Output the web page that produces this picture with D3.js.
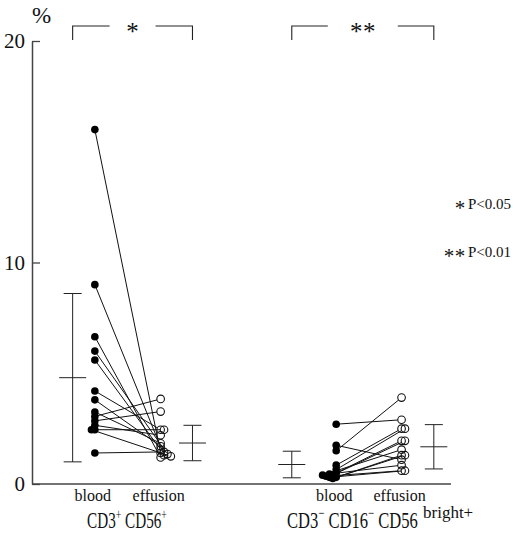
<!DOCTYPE html>
<html>
<head>
<meta charset="utf-8">
<script src="https://cdn.jsdelivr.net/npm/d3@7"></script>
<style>
  body { margin: 0; background: #fff; }
  svg { display: block; }
  text { font-family: "Liberation Serif", "Times New Roman", serif; fill: #111; }
</style>
</head>
<body>
<svg id="chart" width="518" height="543"></svg>
<script>
// Paired percentages (blood vs. effusion) per patient, two lymphocyte subsets
const conditions = ["blood", "effusion"];
const significance = ["*", "**"];
const legendLabels = ["P<0.05", "P<0.01"];
const yTicks = [0, 10, 20];

// CD3+ CD56+ cells
const nktBlood    = [16.0, 9.0, 6.65, 6.0, 5.6, 4.2, 3.8, 3.05, 2.85, 3.25, 2.65, 2.45, 2.45, 1.4];
const nktEffusion = [1.4, 1.3, 1.2, 1.35, 1.55, 2.45, 1.7, 3.84, 3.27, 1.84, 2.2, 2.45, 1.25, 1.45];
const nktMean = [4.8, 1.85];
const nktSD   = [3.8, 0.8];

// CD3- CD16- CD56bright+ cells
const nkBlood    = [2.7, 1.75, 1.5, 0.85, 0.65, 0.5, 0.4, 0.3, 0.25, 0.45, 0.35, 0.3, 0.4];
const nkEffusion = [2.9, 1.1, 3.9, 2.5, 2.5, 1.95, 1.95, 1.3, 1.3, 0.85, 0.6, 0.6, 1.55];
const nkMean = [0.88, 1.68];
const nkSD   = [0.6, 1.0];

const groups = [
  { blood: nktBlood, effusion: nktEffusion, mean: nktMean, sd: nktSD, sig: significance[0] },
  { blood: nkBlood,  effusion: nkEffusion,  mean: nkMean,  sd: nkSD,  sig: significance[1] }
];

const svg = d3.select("#chart");
const axisX0 = 32, axisX1 = 451;

const y = d3.scaleLinear().domain([0, 20]).range([484, 41]);
// horizontal layout in arbitrary units along the x axis
const x = d3.scaleLinear().domain([0, 100]).range([axisX0, axisX1]);
const slots = [
  { sdBlood: 9.7, blood: 15.0, effusion: 30.7, sdEff: 38.3 },
  { sdBlood: 62.0, blood: 72.6, effusion: 88.2, sdEff: 95.9 }
];

const r = 3.8;

// Y axis with inward ticks
const yAxis = svg.append("g")
  .attr("transform", `translate(${axisX0},0)`)
  .call(d3.axisLeft(y).tickValues(yTicks).tickSizeInner(-8).tickSizeOuter(0).tickPadding(7));
yAxis.select(".domain").attr("stroke", "#444").attr("stroke-width", 1.5);
yAxis.selectAll(".tick line").attr("stroke", "#444").attr("stroke-width", 1.3);
yAxis.selectAll(".tick text")
  .style("font-family", "'Liberation Serif', serif")
  .attr("font-size", 21).attr("fill", "#111");

svg.append("text").attr("x", 32).attr("y", 23).attr("font-size", 23).text("%");

// X axis baseline
svg.append("line")
  .attr("x1", axisX0).attr("x2", axisX1)
  .attr("y1", y(0)).attr("y2", y(0))
  .attr("stroke", "#444").attr("stroke-width", 1.5);

// spread coincident points sideways so they stay visible
function dodge(values, cx, dir) {
  const placed = [];
  const minDist = 2.6, step = 3.4;
  return values.map(v => {
    const py = y(v);
    let px = cx;
    while (placed.some(p => Math.hypot(p[0] - px, p[1] - py) < minDist)) px += dir * step;
    placed.push([px, py]);
    return [px, py];
  });
}

groups.forEach((g, gi) => {
  const s = slots[gi];
  const bPts = dodge(g.blood, x(s.blood), -1);
  const ePts = dodge(g.effusion, x(s.effusion), 1);

  // connecting lines, stopped at the open circle's edge
  svg.append("g").selectAll("line").data(d3.range(bPts.length)).join("line")
    .attr("x1", i => bPts[i][0]).attr("y1", i => bPts[i][1])
    .attr("x2", i => {
      const dx = ePts[i][0] - bPts[i][0], dy = ePts[i][1] - bPts[i][1];
      return ePts[i][0] - dx / Math.hypot(dx, dy) * r;
    })
    .attr("y2", i => {
      const dx = ePts[i][0] - bPts[i][0], dy = ePts[i][1] - bPts[i][1];
      return ePts[i][1] - dy / Math.hypot(dx, dy) * r;
    })
    .attr("stroke", "#111").attr("stroke-width", 1);

  svg.append("g").selectAll("circle").data(bPts).join("circle")
    .attr("cx", d => d[0]).attr("cy", d => d[1]).attr("r", r)
    .attr("fill", "#000");

  svg.append("g").selectAll("circle").data(ePts).join("circle")
    .attr("cx", d => d[0]).attr("cy", d => d[1]).attr("r", r)
    .attr("fill", "none").attr("stroke", "#111").attr("stroke-width", 1.1);

  // mean ± SD bars
  [s.sdBlood, s.sdEff].forEach((pos, k) => {
    const cx = x(pos), m = g.mean[k], sd = g.sd[k];
    const eb = svg.append("g").attr("stroke", "#222").attr("stroke-width", 1);
    eb.append("line").attr("x1", cx).attr("x2", cx).attr("y1", y(m + sd)).attr("y2", y(m - sd));
    eb.append("line").attr("x1", cx - 9).attr("x2", cx + 9).attr("y1", y(m + sd)).attr("y2", y(m + sd));
    eb.append("line").attr("x1", cx - 9).attr("x2", cx + 9).attr("y1", y(m - sd)).attr("y2", y(m - sd));
    eb.append("line").attr("x1", cx - 13.5).attr("x2", cx + 13.5).attr("y1", y(m)).attr("y2", y(m));
  });

  // condition labels
  conditions.forEach(c => {
    svg.append("text")
      .attr("x", x(s[c]) - 2).attr("y", 500.5)
      .attr("text-anchor", "middle").attr("font-size", 16)
      .text(c);
  });

  // significance bracket
  const bx0 = x(s.sdBlood), bx1 = x(s.sdEff), bc = (bx0 + bx1) / 2;
  const gap = gi === 0 ? 23 : 35;
  svg.append("path")
    .attr("d", `M${bx0},40V26H${bc - gap} M${bc + gap},26H${bx1}V40`)
    .attr("fill", "none").attr("stroke", "#222").attr("stroke-width", 1.1);
  const stars = g.sig.length;
  for (let k = 0; k < stars; k++) {
    svg.append("text")
      .attr("x", bc + (k - (stars - 1) / 2) * 13).attr("y", 40)
      .attr("text-anchor", "middle").attr("font-size", 25)
      .text("*");
  }
});

// subset labels
const lab0 = svg.append("g").attr("transform", "translate(127,528) scale(0.66,1)");
const t0 = lab0.append("text").attr("text-anchor", "middle").attr("font-size", 23);
t0.append("tspan").text("CD3");
t0.append("tspan").attr("font-size", 15).attr("dy", -9).text("+");
t0.append("tspan").attr("dy", 9).text(" CD56");
t0.append("tspan").attr("font-size", 15).attr("dy", -9).text("+");

const lab1 = svg.append("g").attr("transform", "translate(287,528) scale(0.72,1)");
const t1 = lab1.append("text").attr("text-anchor", "start").attr("font-size", 23);
t1.append("tspan").text("CD3");
t1.append("tspan").attr("font-size", 15).attr("dy", -10).text("−");
t1.append("tspan").attr("dy", 10).text(" CD16");
t1.append("tspan").attr("font-size", 15).attr("dy", -10).text("−");
t1.append("tspan").attr("dy", 10).text(" CD56");
svg.append("text").attr("x", 423).attr("y", 518).attr("font-size", 17).text("bright+");

// significance legend
const legendY = [209, 257];
legendLabels.forEach((lbl, i) => {
  const n = significance[i].length;
  for (let k = 0; k < n; k++) {
    svg.append("text")
      .attr("x", 460 - (n - 1 - k) * 11).attr("y", legendY[i] + 6)
      .attr("text-anchor", "middle").attr("font-size", 21)
      .text("*");
  }
  svg.append("text").attr("x", 468).attr("y", legendY[i])
    .attr("font-size", 15).text(lbl);
});
</script>
</body>
</html>
